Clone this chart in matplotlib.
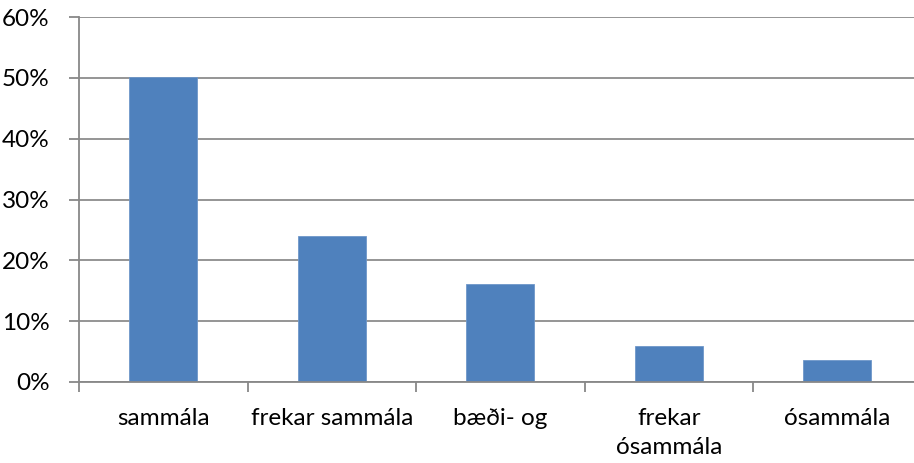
import matplotlib
matplotlib.use("Agg")
import matplotlib.pyplot as plt
import numpy as np

categories = ["sammála", "frekar sammála", "bæði- og", "frekar\nósammála", "ósammála"]
values = [50.2, 24.0, 16.1, 6.0, 3.6]
yticks = [0, 10, 20, 30, 40, 50, 60]
ytick_labels = ["0%", "10%", "20%", "30%", "40%", "50%", "60%"]

plt.rcParams['font.family'] = ['Lato', 'DejaVu Sans']

W, H = 914, 463
fig = plt.figure(figsize=(W/100, H/100), dpi=100)
left, right, top, bottom = 79, 921.5, 17, 382
ax = fig.add_axes([left/W, 1-bottom/H, (right-left)/W, (bottom-top)/H])

x = np.arange(len(categories))
ax.bar(x, values, width=0.405, color="#4F81BD", edgecolor="#6F97C9", linewidth=0.6, zorder=3)

ax.set_xlim(-0.5, len(categories)-0.5)
ax.set_ylim(0, 60)
ax.set_yticks(yticks)
ax.set_yticklabels(ytick_labels, fontsize=17.5)
ax.set_xticks(x)
ax.set_xticklabels(categories, fontsize=17.5, linespacing=1.45)
ax.set_xticks(np.arange(-0.5, len(categories)), minor=True)
ax.tick_params(axis='x', which='major', length=0, pad=19)
ax.tick_params(axis='x', which='minor', length=7, width=1.3, color="#888888")
ax.tick_params(axis='y', length=7, width=1.3, color="#888888", pad=14)
ax.grid(axis='y', color="#8c8c8c", linewidth=1.3, zorder=0)
for s in ['top', 'right']:
    ax.spines[s].set_visible(False)
for s in ['left', 'bottom']:
    ax.spines[s].set_color("#888888")
    ax.spines[s].set_linewidth(1.3)
    ax.spines[s].set_zorder(4)

fig.savefig("out.png", dpi=100)
